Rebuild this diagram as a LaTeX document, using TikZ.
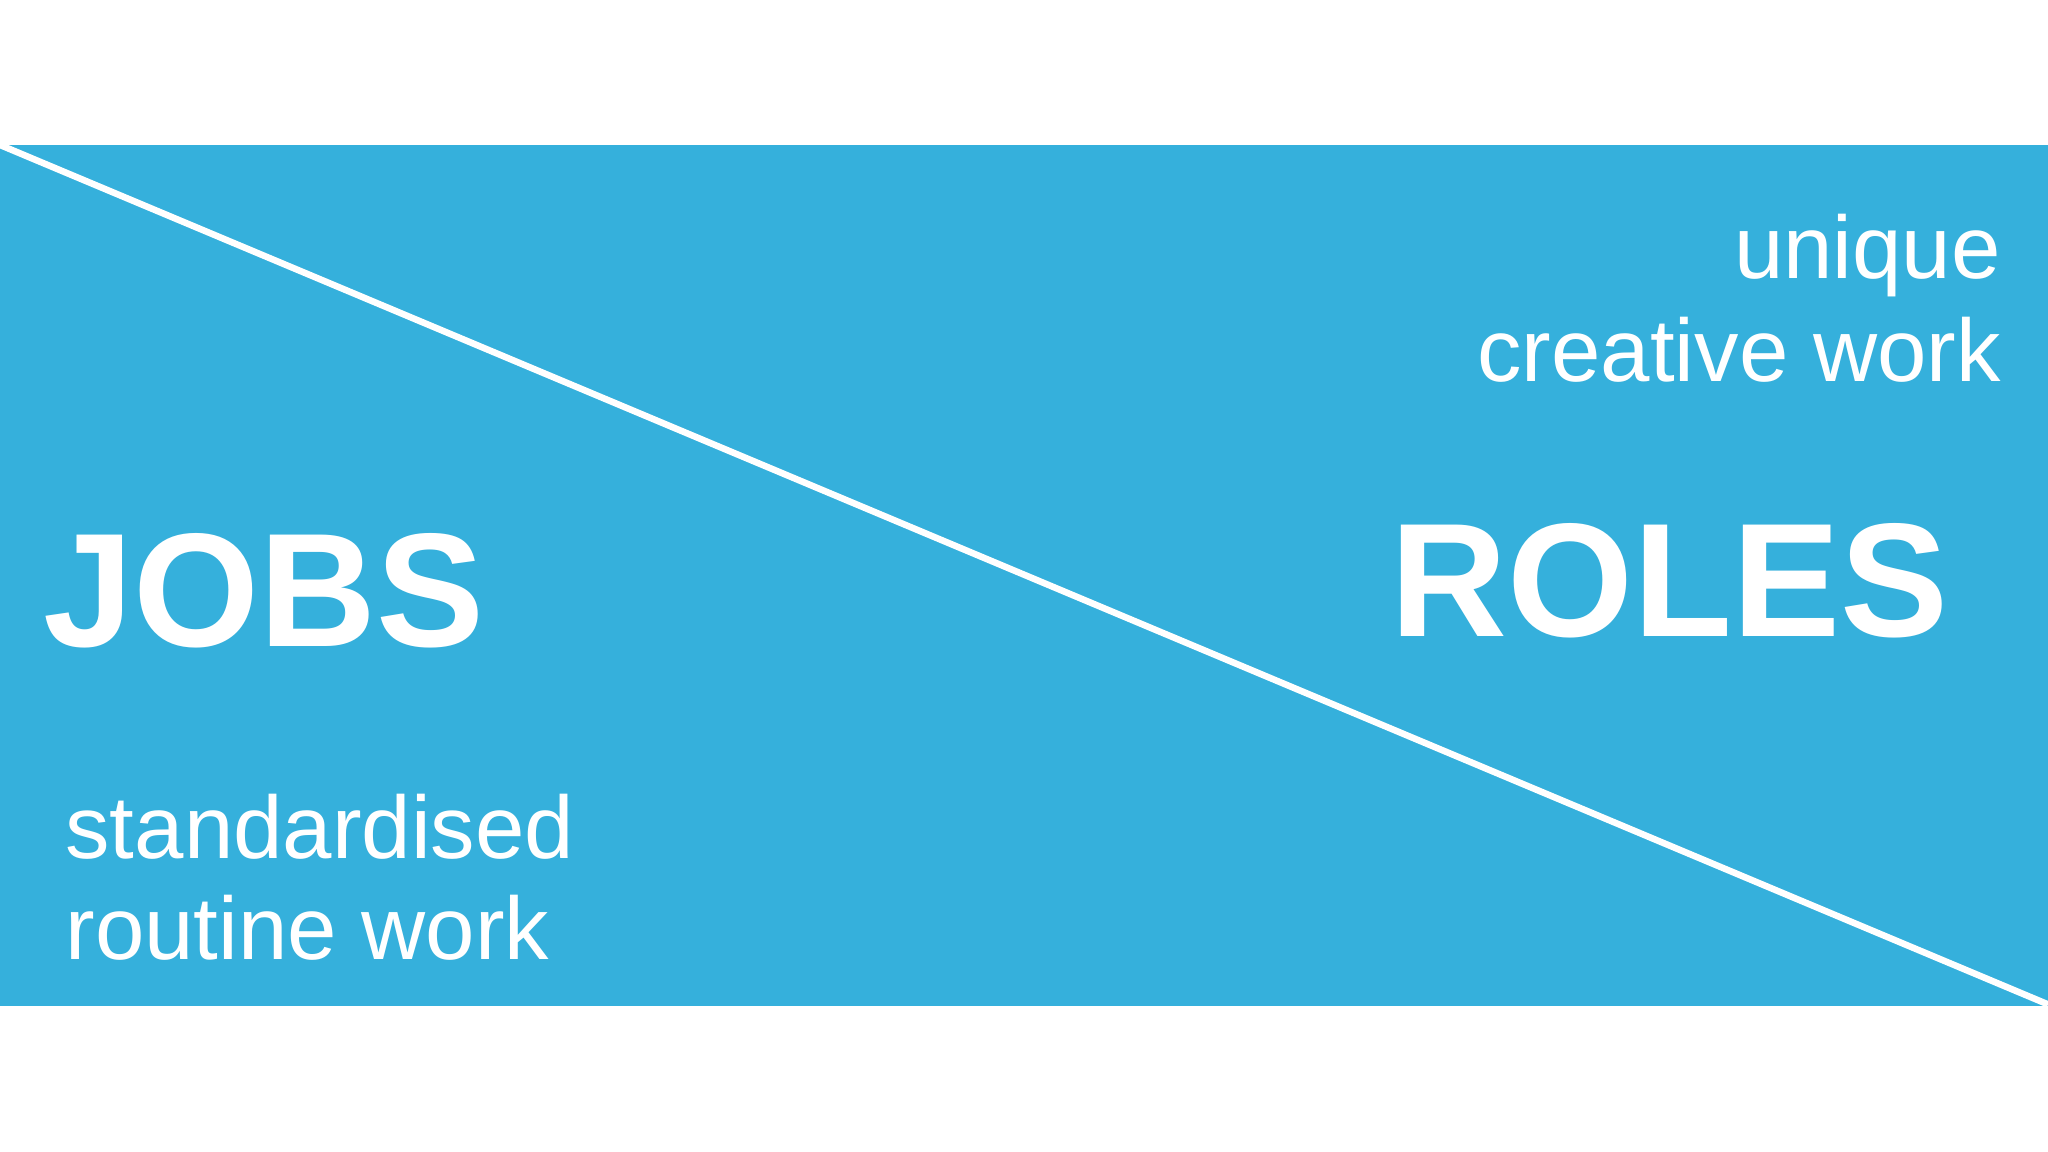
\documentclass[tikz,border=0pt]{standalone}
\usepackage{fontspec}
\setmainfont{Liberation Sans}
\definecolor{bg}{HTML}{35B0DC}
\begin{document}
\begin{tikzpicture}[x=1pt,y=1pt,
  big/.style={text=white,font=\bfseries\fontsize{124}{124}\selectfont,inner sep=0},
  small/.style={text=white,font=\fontsize{68}{79}\selectfont,inner sep=0}]
\useasboundingbox (0,0) rectangle (1568,882);
\fill[white] (0,0) rectangle (1568,882);
\fill[bg] (0,112) rectangle (1568,771);
\coordinate (p) at (0,771);
\coordinate (q) at (1568,113);
\draw[white,line width=5pt] (p) -- (q);
\node[big,anchor=base west] (jobs) at (33,387) {JOBS};
\node[big,anchor=base east] (roles) at (1492,395) {ROLES};
\node[small,anchor=base east] (u1) at (1532,669) {unique};
\node[small,anchor=base east] (u2) at (1532,590) {creative work};
\node[small,anchor=base west] (s1) at (50,225) {standardised};
\node[small,anchor=base west] (s2) at (50,147) {routine work};
\end{tikzpicture}
\end{document}
